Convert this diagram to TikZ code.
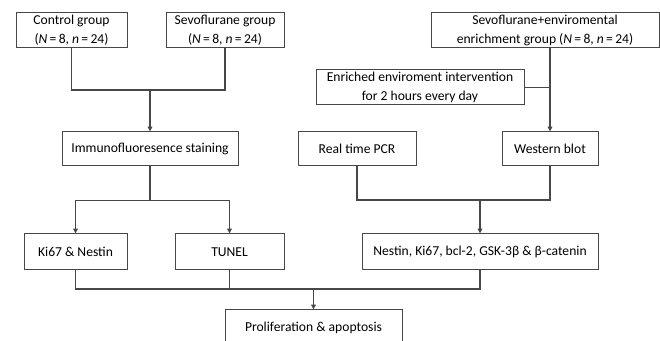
\documentclass[tikz,border=0pt]{standalone}
\usepackage{fontspec}
\setmainfont{Carlito}
\usetikzlibrary{arrows.meta}
\newcommand{\myeq}{\hspace{0.17em}=\hspace{0.17em}}
\tikzset{
  px/.style={x=0.75pt,y=-0.75pt},
  box/.style 2 args={draw=black!72, line width=0.75pt, inner sep=0pt, align=center,
    minimum width=#1*0.75pt, minimum height=#2*0.75pt,
    font=\fontsize{10.2}{14}\selectfont, text=black},
  ln/.style={draw=black!72, line width=0.8pt},
  arr/.style={ln, -{Triangle[length=3.6pt,width=3.4pt]}}
}
\begin{document}
\begin{tikzpicture}[px]
\useasboundingbox (0,0) rectangle (660,341);
\clip (0,0) rectangle (660,341);
\fill[white] (0,0) rectangle (660,341);
% nodes
\node[box={111}{35}] (ctrl) at (71.5,30.5) {Control group\\(\textit{N}\myeq 8, \textit{n}\myeq 24)};
\node[box={118}{35}] (sevo) at (225,30.5) {Sevoflurane group\\(\textit{N}\myeq 8, \textit{n}\myeq 24)};
\node[box={228}{35}] (senv) at (545,30.5) {Sevoflurane+enviromental\\enrichment group (\textit{N}\myeq 8, \textit{n}\myeq 24)};
\node[box={208}{35}] (enr) at (420,87.5) {Enriched enviroment intervention\\for 2 hours every day};
\node[box={176}{34}] (imm) at (150,149) {Immunofluoresence staining};
\node[box={118}{34}] (pcr) at (357,149) {Real time PCR};
\node[box={96}{34}] (wb) at (550,149) {Western blot};
\node[box={103}{36}] (ki) at (75.5,252) {Ki67 \& Nestin};
\node[box={109}{36}] (tun) at (229.5,252) {TUNEL};
\node[box={236}{36}] (nes) at (480,252) {Nestin, Ki67, bcl-2, GSK-3β \& β-catenin};
\node[box={177}{36}] (pro) at (313.5,328) {Proliferation \& apoptosis};
% junctions
\coordinate (j1) at (150,90);
\coordinate (j2) at (150,200.7);
\coordinate (j3) at (480,200);
\coordinate (j4) at (313.5,289);
% connectors
\draw[ln] (ctrl.south) |- (j1) -| (sevo.south);
\draw[arr] (j1) -- (imm.north);
\draw[ln] (imm.south) -- (j2);
\draw[arr] (j2) -| (ki.north);
\draw[arr] (j2) -| (tun.north);
\draw[ln] (enr.east) -- (enr.east -| wb.north);
\draw[arr] (wb.north |- senv.south) -- (wb.north);
\draw[ln] (pcr.south) |- (j3) -| (wb.south);
\draw[arr] (j3) -- (nes.north);
\draw[ln] (ki.south) |- (j4);
\draw[ln] (tun.south) |- (j4);
\draw[ln] (nes.south) |- (j4);
\draw[arr] (j4) -- (pro.north);
\end{tikzpicture}
\end{document}
